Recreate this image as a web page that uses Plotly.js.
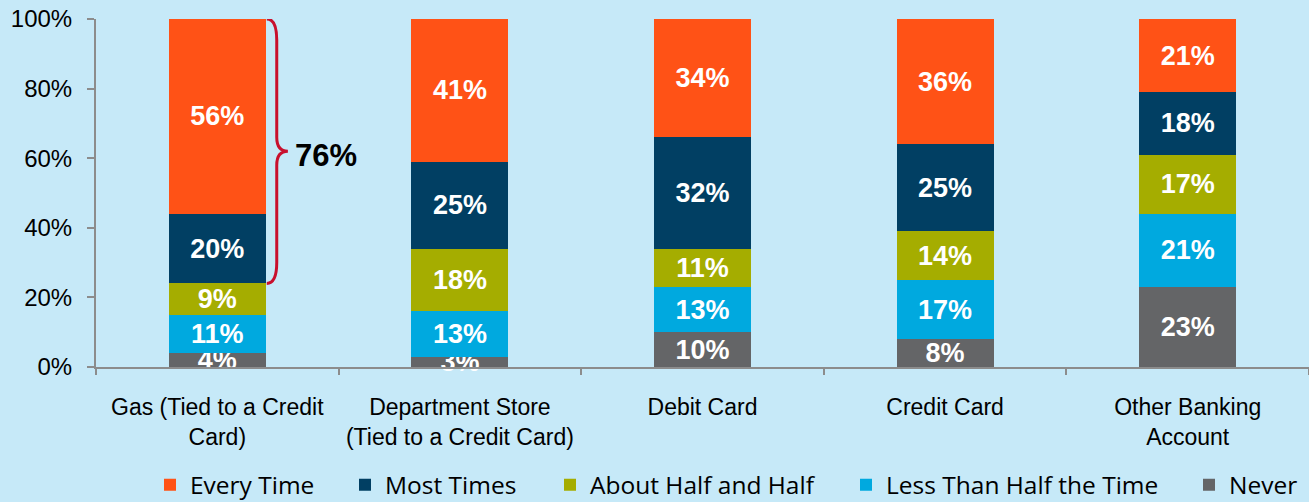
<!DOCTYPE html>
<html>
<head>
<meta charset="utf-8">
<script src="https://cdn.plot.ly/plotly-3.0.1.min.js"></script>
<style>
html,body{margin:0;padding:0;background:#C6E9F8;}
#chart{width:1309px;height:502px;}
</style>
</head>
<body>
<div id="chart"></div>
<script>
// Data
var categories = ["Gas (Tied to a Credit<br>Card)", "Department Store<br>(Tied to a Credit Card)", "Debit Card", "Credit Card", "Other Banking<br>Account"];
var never        = [4, 3, 10, 8, 23];
var lessThanHalf = [11, 13, 13, 17, 21];
var aboutHalf    = [9, 18, 11, 14, 17];
var mostTimes    = [20, 25, 32, 25, 18];
var everyTime    = [56, 41, 34, 36, 21];
var yTickVals    = [0, 20, 40, 60, 80, 100];

var colors = {
  "Every Time": "#FF5216",
  "Most Times": "#013F63",
  "About Half and Half": "#A5AD00",
  "Less Than Half the Time": "#00A9DF",
  "Never": "#646567"
};

function mk(name, vals, legendId) {
  return {
    type: "bar",
    name: name,
    x: categories,
    y: vals,
    text: vals.map(function(v){ return v + "%"; }),
    textposition: "inside",
    insidetextanchor: "middle",
    textangle: 0,
    constraintext: "none",
    cliponaxis: false,
    textfont: {family: "Liberation Sans, Arial, sans-serif", size: 27, color: "#FFFFFF", weight: "bold"},
    marker: {color: colors[name], line: {width: 0}},
    width: 0.4,
    hoverinfo: "skip",
    legend: legendId
  };
}

var data = [
  mk("Never", never, "legend5"),
  mk("Less Than Half the Time", lessThanHalf, "legend4"),
  mk("About Half and Half", aboutHalf, "legend3"),
  mk("Most Times", mostTimes, "legend2"),
  mk("Every Time", everyTime, "legend")
];

// Brace around Every Time + Most Times for first category
var braceTop = 100;
var braceTotal = everyTime[0] + mostTimes[0];
var braceBot = braceTop - braceTotal;
var braceMid = (braceTop + braceBot) / 2;
var bx0 = 0.204, bx1 = 0.245, bx2 = 0.291;
var bracePath = "M " + bx0 + "," + braceTop +
  " Q " + bx1 + "," + braceTop + " " + bx1 + "," + (braceTop - 6) +
  " L " + bx1 + "," + (braceMid + 4) +
  " Q " + bx1 + "," + braceMid + " " + bx2 + "," + braceMid +
  " Q " + bx1 + "," + braceMid + " " + bx1 + "," + (braceMid - 4) +
  " L " + bx1 + "," + (braceBot + 6) +
  " Q " + bx1 + "," + braceBot + " " + bx0 + "," + braceBot;

function leg(xpx) {
  return {
    orientation: "h",
    x: xpx / 1309, xanchor: "left",
    xref: "container",
    y: 0.034, yanchor: "middle",
    yref: "container",
    font: {family: "Open Sans, sans-serif", size: 24.5, color: "#000000"},
    bgcolor: "rgba(0,0,0,0)",
    borderwidth: 0
  };
}

var layout = {
  width: 1309,
  height: 502,
  paper_bgcolor: "#C6E9F8",
  plot_bgcolor: "#C6E9F8",
  barmode: "stack",
  margin: {l: 96, r: 0, t: 19, b: 135},
  showlegend: true,
  legend: leg(150),
  legend2: leg(345),
  legend3: leg(550),
  legend4: leg(846),
  legend5: leg(1189),
  xaxis: {
    type: "category",
    showline: true,
    linecolor: "#8C8C8C",
    linewidth: 2,
    ticks: "outside",
    tickson: "boundaries",
    ticklen: 6,
    tickcolor: "#8C8C8C",
    tickwidth: 2,
    showgrid: false,
    tickfont: {family: "Liberation Sans, Arial, sans-serif", size: 23, color: "#000000"},
    ticklabelstandoff: 18
  },
  yaxis: {
    range: [0, 100],
    tickvals: yTickVals,
    ticktext: yTickVals.map(function(v){ return v + "%"; }),
    showline: true,
    linecolor: "#8C8C8C",
    linewidth: 2,
    ticks: "outside",
    ticklen: 7,
    tickcolor: "#8C8C8C",
    tickwidth: 2,
    showgrid: false,
    zeroline: false,
    tickfont: {family: "Liberation Sans, Arial, sans-serif", size: 24, color: "#000000"},
    ticklabelstandoff: 10
  },
  shapes: [{
    type: "path",
    xref: "x", yref: "y",
    path: bracePath,
    line: {color: "#C8102E", width: 3}
  }],
  annotations: [{
    xref: "x", yref: "y",
    x: 0.31, y: braceMid - 1.2,
    xanchor: "left", yanchor: "middle",
    text: "<b>" + braceTotal + "%</b>",
    showarrow: false,
    font: {family: "Liberation Sans, Arial, sans-serif", size: 31, color: "#000000"}
  }]
};

Plotly.newPlot("chart", data, layout, {staticPlot: true, displayModeBar: false});
</script>
</body>
</html>
